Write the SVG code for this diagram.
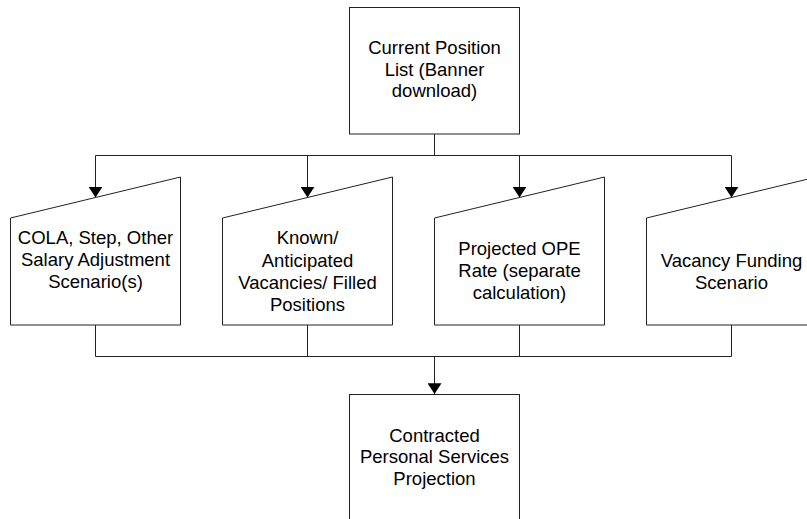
<svg xmlns="http://www.w3.org/2000/svg" width="807" height="519" viewBox="0 0 807 519">
<style>
.box{fill:#fff;stroke:#222;stroke-width:1}
.ln{fill:none;stroke:#222;stroke-width:1}
.t{font-family:"Liberation Sans",Arial,sans-serif;font-size:18.5px;fill:#000;text-anchor:middle}
</style>
<defs>
<marker id="arr" markerUnits="userSpaceOnUse" markerWidth="11" markerHeight="14" refX="10" refY="6.5" orient="auto" viewBox="0 0 10 13">
<path d="M0,0 L10,6.5 L0,13 z" fill="#000"/>
</marker>
</defs>
<rect width="807" height="519" fill="#fff"/>
<g id="connectors">
<polyline class="ln" points="434.5,134 434.5,155.5"/>
<polyline class="ln" points="95.5,155.5 731.5,155.5"/>
<line class="ln" x1="95.5" y1="155.5" x2="95.5" y2="197.5" marker-end="url(#arr)"/>
<line class="ln" x1="307.5" y1="155.5" x2="307.5" y2="197.5" marker-end="url(#arr)"/>
<line class="ln" x1="519.5" y1="155.5" x2="519.5" y2="197.5" marker-end="url(#arr)"/>
<line class="ln" x1="731.5" y1="155.5" x2="731.5" y2="197.5" marker-end="url(#arr)"/>
<polyline class="ln" points="95.5,325 95.5,356.5 731.5,356.5 731.5,325"/>
<line class="ln" x1="307.5" y1="325" x2="307.5" y2="356.5"/>
<line class="ln" x1="519.5" y1="325" x2="519.5" y2="356.5"/>
<line class="ln" x1="434.5" y1="356.5" x2="434.5" y2="394" marker-end="url(#arr)"/>
</g>
<g id="current-position">
<rect class="box" x="349.5" y="7.5" width="170" height="126.5"/>
<text class="t" x="434.5" y="54">Current Position</text>
<text class="t" x="434.5" y="75.5">List (Banner</text>
<text class="t" x="434.5" y="97">download)</text>
</g>
<g id="cola">
<polygon class="box" points="10.5,218 180.5,177 180.5,325 10.5,325"/>
<text class="t" x="95.5" y="244">COLA, Step, Other</text>
<text class="t" x="95.5" y="266">Salary Adjustment</text>
<text class="t" x="95.5" y="288">Scenario(s)</text>
</g>
<g id="vacancies">
<polygon class="box" points="222.5,218 392.5,177 392.5,325 222.5,325"/>
<text class="t" x="307.5" y="244">Known/</text>
<text class="t" x="307.5" y="266.5">Anticipated</text>
<text class="t" x="307.5" y="289">Vacancies/ Filled</text>
<text class="t" x="307.5" y="311">Positions</text>
</g>
<g id="ope">
<polygon class="box" points="434.5,218 604.5,177 604.5,325 434.5,325"/>
<text class="t" x="519.5" y="255">Projected OPE</text>
<text class="t" x="519.5" y="277">Rate (separate</text>
<text class="t" x="519.5" y="299">calculation)</text>
</g>
<g id="vacancy-funding">
<polygon class="box" points="646.5,218 816.5,177 816.5,325 646.5,325"/>
<text class="t" x="731.5" y="266.5">Vacancy Funding</text>
<text class="t" x="731.5" y="288.5">Scenario</text>
</g>
<g id="projection">
<rect class="box" x="349.5" y="394.5" width="170" height="140"/>
<text class="t" x="434.5" y="441.5">Contracted</text>
<text class="t" x="434.5" y="463">Personal Services</text>
<text class="t" x="434.5" y="485">Projection</text>
</g>
</svg>
